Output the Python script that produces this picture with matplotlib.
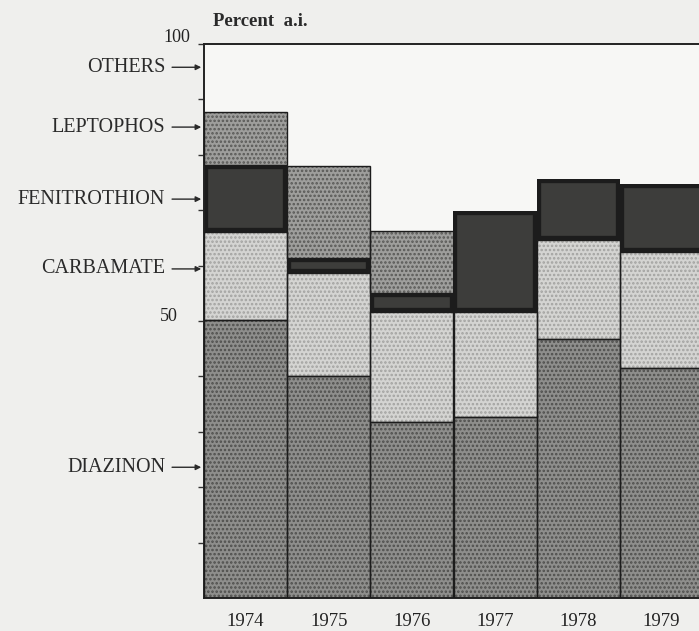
"""
Stacked share of insecticide active ingredients by year (percent a.i.),
redrawn in the style of the old printed halftone figure.
"""
import numpy as np
import matplotlib
matplotlib.use('Agg')
import matplotlib.pyplot as plt

years        = ['1974', '1975', '1976', '1977', '1978', '1979']
diazinon     = [50.2, 40.0, 31.8, 32.7, 46.8, 41.5]
carbamate    = [15.9, 18.7, 19.8, 18.9, 17.8, 20.9]
fenitrothion = [12.1, 2.7, 3.4, 18.3, 11.0, 12.3]
leptophos    = [9.5, 16.6, 11.2, 0.0, 0.0, 0.0]

label_names = ['OTHERS', 'LEPTOPHOS', 'FENITROTHION', 'CARBAMATE', 'DIAZINON']
label_at    = [95.8, 85.0, 72.0, 59.4, 23.6]

# fill colour, dot pattern colour (None = plain), outline width
STYLES = {
    'diazinon':     ('#8e8e8c', '#4e4e4c', 1.0),
    'carbamate':    ('#d4d4d2', '#a2a2a0', 1.0),
    'fenitrothion': ('#3d3d3b', None, 6.0),
    'leptophos':    ('#9e9e9c', '#585856', 1.0),
}

SERIF = ['Liberation Serif', 'DejaVu Serif']
plt.rcParams['font.family'] = SERIF
plt.rcParams['hatch.linewidth'] = 1.2

fig = plt.figure(figsize=(6.99, 6.31), dpi=100, facecolor='#efefed')
ax = fig.add_axes([204 / 699, 33 / 631, 499 / 699, 554 / 631])
ax.set_facecolor('#f7f7f5')

x = np.arange(len(years))
bottom = np.zeros(len(years))
for name, vals in [('diazinon', diazinon), ('carbamate', carbamate),
                   ('fenitrothion', fenitrothion), ('leptophos', leptophos)]:
    vals = np.array(vals)
    face, dots, lw = STYLES[name]
    keep = vals > 0
    ax.bar(x[keep], vals[keep], width=1.0, bottom=bottom[keep], color=face,
           edgecolor=dots if dots else face, linewidth=0,
           hatch='....' if dots else None, zorder=2)
    outline = ax.bar(x[keep], vals[keep], width=1.0, bottom=bottom[keep], fill=False,
                     edgecolor='#1c1c1c', linewidth=lw, zorder=3 if lw < 2 else 2.5)
    if lw > 2:
        # keep only the inner half of the heavy border
        for p in outline:
            p.set_clip_path(p)
    bottom = bottom + vals

ax.set_xlim(-0.5, len(years) - 0.5)
ax.set_ylim(0, 100)

ax.set_xticks(x)
ax.set_xticklabels(years, fontsize=13.5, color='#222222')
ax.tick_params(axis='x', length=0, pad=11)

ax.set_yticks(np.arange(10, 101, 10))
ax.set_yticklabels([])
ax.tick_params(axis='y', length=4, width=1, direction='out', color='#333333')
for val, dx, dy in [(100, -10, 5), (50, -19, 3.5)]:
    ax.annotate(str(val), xy=(0, val), xycoords=('axes fraction', 'data'),
                xytext=(dx, dy), textcoords='offset points', ha='right',
                va='center', fontsize=13, color='#222222', annotation_clip=False)

for side in ['left', 'top', 'bottom']:
    ax.spines[side].set_color('#222222')
    ax.spines[side].set_linewidth(1.4)
ax.spines['right'].set_visible(False)

for name, yv in zip(label_names, label_at):
    ax.annotate(name, xy=(-0.5, yv), xycoords='data',
                xytext=(-28, 0), textcoords='offset points',
                ha='right', va='center', fontsize=14.5, color='#2a2a2a',
                annotation_clip=False,
                arrowprops=dict(arrowstyle='-|>', lw=1.0, color='#2a2a2a',
                                mutation_scale=8, shrinkA=3, shrinkB=2))

fig.text(213 / 699, 1 - 21 / 631, 'Percent  a.i.', fontsize=13.5, color='#2a2a2a',
         fontweight='bold', ha='left', va='center')

fig.savefig('out.png', dpi=100, facecolor=fig.get_facecolor())
